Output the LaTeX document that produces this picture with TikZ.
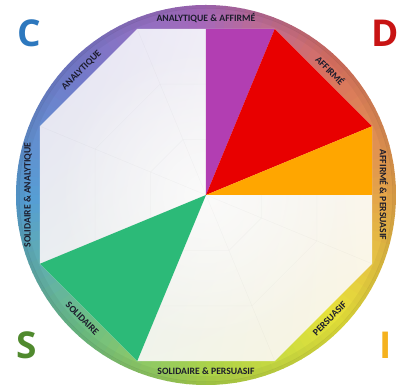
\documentclass[tikz,border=0pt]{standalone}
\usepackage{fontspec}
\setmainfont{Carlito}
\newfontfamily\letterfont{Open Sans}
\usetikzlibrary{fadings,shadings}

% ring palette, one colour every 45 degrees starting east, counter-clockwise
\definecolor{r0}{RGB}{228,162,74}
\definecolor{r1}{RGB}{216,112,96}
\definecolor{r2}{RGB}{166,104,186}
\definecolor{r3}{RGB}{116,122,202}
\definecolor{r4}{RGB}{86,158,212}
\definecolor{r5}{RGB}{108,190,134}
\definecolor{r6}{RGB}{172,210,72}
\definecolor{r7}{RGB}{230,226,58}
\definecolor{r8}{RGB}{228,162,74}

% octagon face corners
\definecolor{faceUL}{RGB}{228,226,243}
\definecolor{faceUR}{RGB}{251,248,251}
\definecolor{faceLL}{RGB}{236,243,240}
\definecolor{faceLR}{RGB}{250,245,222}

% sectors
\definecolor{dpurple}{RGB}{178,62,178}
\definecolor{dred}{RGB}{232,0,0}
\definecolor{dorange}{RGB}{255,166,0}
\definecolor{dgreen}{RGB}{44,186,120}

% corner letters
\definecolor{cblue}{RGB}{45,120,190}
\definecolor{cred}{RGB}{200,20,20}
\definecolor{cgreen}{RGB}{80,138,46}
\definecolor{cyellow}{RGB}{245,178,30}

\definecolor{labelink}{RGB}{28,28,44}

\tikzfading[name=centerglow, inner color=transparent!0, outer color=transparent!100]

\begin{document}
\begin{tikzpicture}[x=1pt,y=1pt,
  ringlabel/.style={font=\bfseries\fontsize{9.7}{10}\selectfont, text=labelink, inner sep=0pt},
  bigletter/.style={font=\letterfont\bfseries\fontsize{37}{37}\selectfont, inner sep=0pt},
  web/.style={draw=black, draw opacity=0.025, line width=0.6}]

\useasboundingbox (-206,-192) rectangle (199,195);
\fill[white] (-206,-192) rectangle (199,195);

% octagon corners
\foreach \i in {1,...,8}
  \coordinate (v\i) at ({22.5+45*(\i-1)}:179.7);
\coordinate (o) at (0,0);
\coordinate (ntop) at (0,166);
\coordinate (neast) at (166,0);

% colour ring
\begin{scope}
  \clip (o) circle (190);
  \foreach \k in {0,...,7} {
    \pgfmathtruncatemacro\n{\k+1}
    \foreach \j in {0,...,14} {
      \pgfmathtruncatemacro\p{100-\j*100/15}
      \pgfmathsetmacro\a{\k*45+\j*3}
      \colorlet{seg}{r\k!\p!r\n}
      \fill[seg] (o) -- (\a:200) arc[start angle=\a, end angle=\a+3.4, radius=200] -- cycle;
    }
  }
  % rim shading
  \draw[black, opacity=0.08, line width=5] (o) circle (189);
  \draw[black, opacity=0.04, line width=6] (o) circle (184);
\end{scope}

% octagon face
\shade[upper left=faceUL, upper right=faceUR, lower left=faceLL, lower right=faceLR]
  (v1) -- (v2) -- (v3) -- (v4) -- (v5) -- (v6) -- (v7) -- (v8) -- cycle;
\fill[white, opacity=0.7, path fading=centerglow] (o) circle (150);

% faint web
\foreach \r in {60,120}
  \draw[web] (22.5:\r) \foreach \t in {67.5,112.5,...,337.5} { -- (\t:\r) } -- cycle;
\foreach \i in {1,...,8}
  \draw[web] (o) -- (v\i);

% coloured sectors
\fill[dpurple] (o) -- (ntop) -- (v2) -- cycle;
\fill[dred] (o) -- (v2) -- (v1) -- cycle;
\fill[dorange] (o) -- (v1) -- (neast) -- cycle;
\fill[dgreen] (o) -- (v5) -- (v6) -- cycle;

% ring labels
\node[ringlabel] (lAA) at (90:177) {ANALYTIQUE \& AFFIRMÉ};
\node[ringlabel, rotate=-45] (lA) at (45:176) {AFFIRMÉ};
\node[ringlabel, rotate=-90] (lAP) at (0:178) {AFFIRMÉ \& PERSUASIF};
\node[ringlabel, rotate=45] (lP) at (-45:175) {PERSUASIF};
\node[ringlabel] (lSP) at (-90:176) {SOLIDAIRE \& PERSUASIF};
\node[ringlabel, rotate=-45] (lS) at (225:175) {SOLIDAIRE};
\node[ringlabel, rotate=90] (lSA) at (180:178) {SOLIDAIRE \& ANALYTIQUE};
\node[ringlabel, rotate=45] (lAn) at (135:176) {ANALYTIQUE};

% corner letters
\node[bigletter, text=cblue] (C) at (-177,162) {C};
\node[bigletter, text=cred] (D) at (179,162) {D};
\node[bigletter, text=cgreen] (S) at (-179,-150) {S};
\node[bigletter, text=cyellow] (I) at (180,-150) {I};
\end{tikzpicture}
\end{document}
